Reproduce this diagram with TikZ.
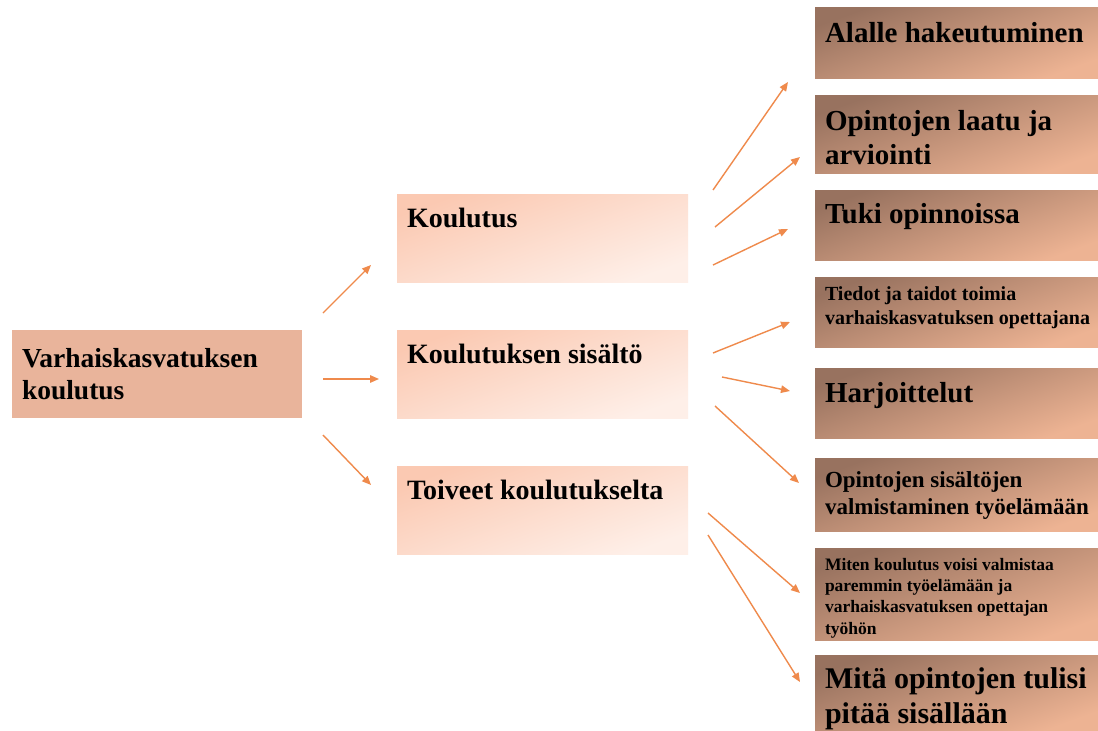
\documentclass[tikz,border=0pt]{standalone}
\usepackage{fontspec}
\setmainfont{Liberation Serif}
\usetikzlibrary{arrows.meta,calc}
\definecolor{rootfill}{HTML}{E9B49B}
\definecolor{midA}{HTML}{FBC9B2}
\definecolor{midB}{HTML}{FEEFE8}
\definecolor{rA}{HTML}{98725F}
\definecolor{rB}{HTML}{EDB393}
\definecolor{arrc}{HTML}{EF8A4C}
\newcommand\myfs[2]{\bfseries\fontsize{#1}{#2}\selectfont}
\begin{document}
\begin{tikzpicture}[x=1pt,y=-1pt,
  box/.style={anchor=north west, inner sep=0pt, outer sep=0pt, rectangle},
  rootbox/.style={box, fill=rootfill},
  midbox/.style={box, top color=midA, bottom color=midB, shading angle=20, minimum width=291pt, minimum height=88pt},
  rbox/.style={box, top color=rA, bottom color=rB, shading angle=20, minimum width=283pt},
  txt/.style={anchor=north west, inner sep=0pt, outer sep=0pt, align=left, text=black},
  arr/.style={draw=arrc, line width=1.4pt, -{Triangle[length=9pt,width=7.5pt]}}]
\fill[white] (0,0) rectangle (1098,731);
\useasboundingbox (0,0) rectangle (1098,731);

% root
\node[rootbox, minimum width=290pt, minimum height=88pt] (root) at (12,330) {};
\node[txt, font=\myfs{27.5}{32}] (roott) at ($(root.north west)+(10,18)$) {Varhaiskasvatuksen\\koulutus};

% middle
\node[midbox] (m1) at (397,194) {};
\node[midbox] (m2) at (397,330) {};
\node[midbox] (m3) at (397,466) {};
\node[txt, font=\myfs{28}{33}] (m1t) at ($(m1.north west)+(10,14)$) {Koulutus};
\node[txt, font=\myfs{28}{33}] (m2t) at ($(m2.north west)+(10,14)$) {Koulutuksen sisältö};
\node[txt, font=\myfs{28}{33}] (m3t) at ($(m3.north west)+(10,14)$) {Toiveet koulutukselta};

% right
\node[rbox, minimum height=71pt] (r1) at (815,7) {};
\node[rbox, minimum height=78pt] (r2) at (815,95) {};
\node[rbox, minimum height=70pt] (r3) at (815,190) {};
\node[rbox, minimum height=70pt] (r4) at (815,277) {};
\node[rbox, minimum height=70pt] (r5) at (815,368) {};
\node[rbox, minimum height=73pt] (r6) at (815,458) {};
\node[rbox, minimum height=92pt] (r7) at (815,548) {};
\node[rbox, minimum height=76pt] (r8) at (815,655) {};

\node[txt, font=\myfs{29}{34}] (r1t) at ($(r1.north west)+(10,15)$) {Alalle hakeutuminen};
\node[txt, font=\myfs{29}{34}] (r2t) at ($(r2.north west)+(10,15)$) {Opintojen laatu ja\\arviointi};
\node[txt, font=\myfs{29}{34}] (r3t) at ($(r3.north west)+(10,13)$) {Tuki opinnoissa};
\node[txt, font=\myfs{20}{23.5}] (r4t) at ($(r4.north west)+(10,10)$) {Tiedot ja taidot toimia\\varhaiskasvatuksen opettajana};
\node[txt, font=\myfs{29}{34}] (r5t) at ($(r5.north west)+(10,14)$) {Harjoittelut};
\node[txt, font=\myfs{23}{27}] (r6t) at ($(r6.north west)+(10,14)$) {Opintojen sisältöjen\\valmistaminen työelämään};
\node[txt, font=\myfs{17.5}{21.3}] (r7t) at ($(r7.north west)+(10,10)$) {Miten koulutus voisi valmistaa\\paremmin työelämään ja\\varhaiskasvatuksen opettajan\\työhön};
\node[txt, font=\myfs{30}{35}] (r8t) at ($(r8.north west)+(10,13)$) {Mitä opintojen tulisi\\pitää sisällään};

% arrow endpoints
\coordinate (a1s) at (323,313); \coordinate (a1e) at (371,265);
\coordinate (a2s) at (323,379); \coordinate (a2e) at (379,379);
\coordinate (a3s) at (323,435); \coordinate (a3e) at (371,485);
\coordinate (b1s) at (713,190); \coordinate (b1e) at (788,82);
\coordinate (b2s) at (715,227); \coordinate (b2e) at (800,157);
\coordinate (b3s) at (713,265); \coordinate (b3e) at (788,229);
\coordinate (b4s) at (713,353); \coordinate (b4e) at (790,322);
\coordinate (b5s) at (722,377); \coordinate (b5e) at (790,391);
\coordinate (b6s) at (715,406); \coordinate (b6e) at (799,483);
\coordinate (b7s) at (708,513); \coordinate (b7e) at (800,593);
\coordinate (b8s) at (708,535); \coordinate (b8e) at (800,682);

\draw[arr] (a1s) -- (a1e);
\draw[arr] (a2s) -- (a2e);
\draw[arr] (a3s) -- (a3e);
\draw[arr] (b1s) -- (b1e);
\draw[arr] (b2s) -- (b2e);
\draw[arr] (b3s) -- (b3e);
\draw[arr] (b4s) -- (b4e);
\draw[arr] (b5s) -- (b5e);
\draw[arr] (b6s) -- (b6e);
\draw[arr] (b7s) -- (b7e);
\draw[arr] (b8s) -- (b8e);
\end{tikzpicture}
\end{document}
